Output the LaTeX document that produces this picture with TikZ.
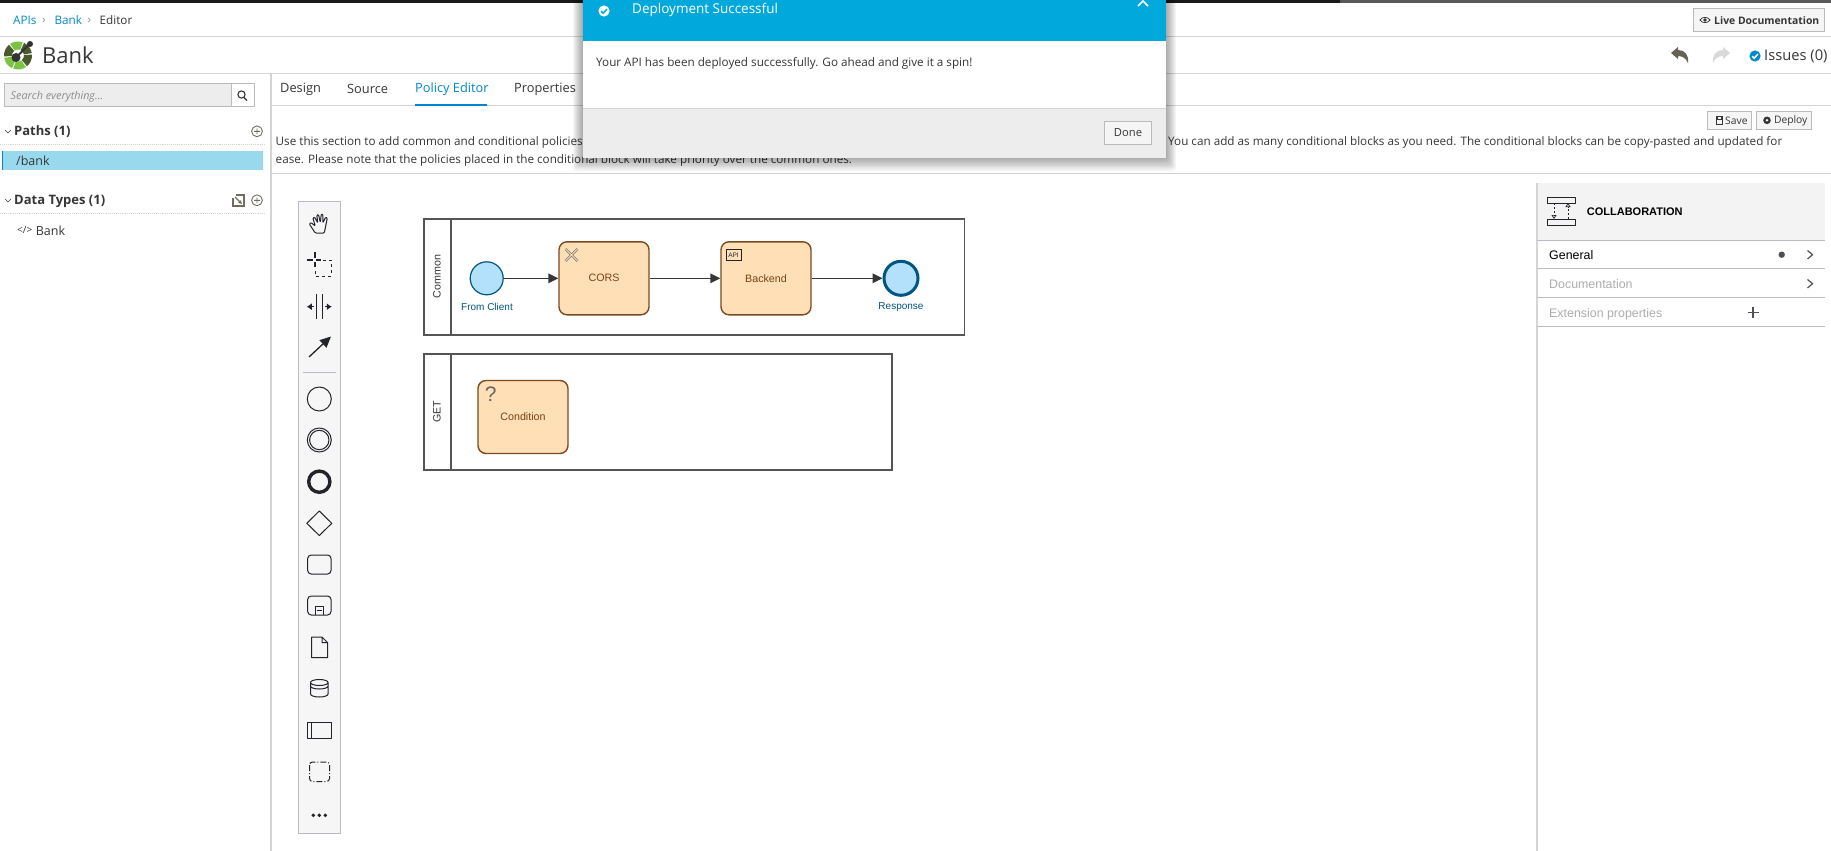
\documentclass[tikz,border=0pt]{standalone}
\usepackage{fontspec}
\usepackage{xcolor}
\usepackage{tikz}
\usetikzlibrary{calc,arrows.meta,shapes.geometric}
\setmainfont{Open Sans}
\newfontfamily\bpmnfont{Liberation Sans}
\definecolor{txt}{HTML}{363636}
\definecolor{muted}{HTML}{8A8D90}
\definecolor{rule}{HTML}{D4D4D4}
\definecolor{link}{HTML}{0088CE}
\definecolor{modal}{HTML}{00A8DB}
\definecolor{panel}{HTML}{EDEDED}
\definecolor{btn}{HTML}{F5F5F5}
\definecolor{btnedge}{HTML}{BBBBBB}
\definecolor{selbar}{HTML}{99D9EE}
\definecolor{olive}{HTML}{6F6E5E}
\definecolor{pooledge}{HTML}{555558}
\definecolor{taskfill}{HTML}{FFDFB6}
\definecolor{taskedge}{HTML}{7C4A20}
\definecolor{tasktxt}{HTML}{7A4318}
\definecolor{evfill}{HTML}{B3E0FB}
\definecolor{evedge}{HTML}{00567F}
\definecolor{toolfill}{HTML}{F6F6F7}
\definecolor{tooledge}{HTML}{B9BCC6}
\definecolor{toolink}{HTML}{22242A}
\definecolor{propfill}{HTML}{F3F3F4}
\definecolor{logodark}{HTML}{4B5A2C}
\definecolor{logolight}{HTML}{7DC243}
\tikzset{
  ui/.style={anchor=west, inner sep=0pt, yshift=-0.7pt, text=txt, font=\fontsize{#1}{#1}\selectfont},
  ui/.default=11.7,
  uibold/.style={anchor=west, inner sep=0pt, yshift=-0.7pt, text=txt, font=\fontsize{#1}{#1}\selectfont\bfseries},
  hline/.style={draw=rule, line width=1.2pt},
  dotline/.style={draw=rule, line width=0.9pt, densely dotted},
  button/.style={draw=btnedge, fill=btn, line width=0.9pt, inner sep=0pt, text=txt},
  addicon/.style={draw=olive, line width=0.9pt},
  pool/.style={draw=pooledge, line width=1.4pt, inner sep=0pt},
  poollabel/.style={rotate=90, inner sep=0pt, text=txt, font=\bpmnfont\fontsize{10.7}{10.7}\selectfont},
  task/.style={draw=taskedge, fill=taskfill, line width=1.4pt, rounded corners=8pt, inner sep=0pt,
    minimum width=90pt, minimum height=73pt, text=tasktxt, font=\bpmnfont\fontsize{10.7}{10.7}\selectfont},
  startev/.style={circle, draw=evedge, fill=evfill, line width=1.2pt, inner sep=0pt, minimum size=33pt},
  endev/.style={circle, draw=evedge, fill=evfill, line width=3pt, inner sep=0pt, minimum size=34pt},
  evlabel/.style={inner sep=0pt, text=evedge, font=\bpmnfont\fontsize{10}{10}\selectfont},
  flow/.style={draw=txt, line width=1.5pt, -{Triangle[length=10pt,width=9.5pt]}},
  tool/.style={draw=toolink, line width=1pt, line join=round},
  prop/.style={anchor=west, inner sep=0pt, font=\bpmnfont\fontsize{12.4}{12.4}\selectfont},
  propline/.style={draw=tooledge, line width=0.9pt},
  pics/okmark/.style 2 args={code={
    \fill[#1] (0,0) circle (5.6pt);
    \draw[#2, line width=1.5pt] (-2.8,0.2) -- (-0.8,2.2) -- (2.9,-1.9);
  }}
}

\begin{document}
\begin{tikzpicture}[x=1pt, y=-1pt]
  \useasboundingbox (0,0) rectangle (1831,851);
  \fill[white] (0,0) rectangle (1831,851);
  \fill[black!90] (0,0) rectangle (1340,2.7);
  \fill[black!65] (1340,0) rectangle (1831,2.7);

  % top bars
  \draw[hline] (0,36.7) -- (1831,36.7);
  \draw[hline] (0,73.3) -- (1831,73.3);
  \draw[hline] (271,105.3) -- (1831,105.3);
  \draw[hline] (271,173.3) -- (1831,173.3);
  \draw[hline] (271,73.3) -- (271,851);

  \node[ui, text=link] (apis) at (13,19.7) {APIs};
  \node[ui, text=muted] (sepa) at (42,19.7) {›};
  \node[ui, text=link] (bankcrumb) at (54.3,19.7) {Bank};
  \node[ui, text=muted] (sepb) at (87.5,19.7) {›};
  \node[ui] (editor) at (99.5,19.7) {Editor};

  % logo
  \foreach \a/\c in {10/logodark, 70/logolight, 130/logodark, 190/logolight, 250/logolight, 310/logodark}
    \fill[\c] (18,55.5) ++(\a:14pt) arc[start angle=\a, end angle=\a+54, radius=14pt]
      -- ++(\a+54:-8pt) arc[start angle=\a+54, end angle=\a, radius=6pt] -- cycle;
  \draw[black!80, line width=2pt] (16,57.5) -- (30,43.5);
  \fill[black!80] (16,57.5) circle (4.5pt);
  \fill[black!80] (30,44) circle (3pt);
  \node[ui=22] (apititle) at (42,55) {Bank};

  % undo, redo, issues
  \fill[olive!90!black] (1671,53) -- (1678,47) -- (1678,50) .. controls (1685,50) and (1689,55) .. (1688,63)
    .. controls (1686,58) and (1682,56) .. (1678,56) -- (1678,59) -- cycle;
  \fill[black!15] (1730,53) -- (1723,47) -- (1723,50) .. controls (1716,50) and (1712,55) .. (1713,63)
    .. controls (1715,58) and (1719,56) .. (1723,56) -- (1723,59) -- cycle;
  \pic at (1755,56) {okmark={link}{white}};
  \node[ui=14.7] (issues) at (1764,56) {Issues (0)};

  % live documentation button
  \node[button, minimum width=131pt, minimum height=23.4pt] (livebtn) at (1759,20) {};
  \draw[txt, line width=0.8pt] (1700,20) .. controls (1702,16.5) and (1708,16.5) .. (1710,20)
    .. controls (1708,23.5) and (1702,23.5) .. (1700,20) -- cycle;
  \fill[txt] (1705,20) circle (1.8pt);
  \node[uibold=10.4] (livetxt) at (1714,20) {Live Documentation};

  % left column
  \node[draw=btnedge, fill=panel, line width=0.9pt, minimum width=228pt, minimum height=23pt, inner sep=0pt] (searchbox) at (118,95.2) {};
  \node[ui=10.8, text=muted, font=\fontsize{10.8}{10.8}\selectfont\itshape] (searchtxt) at (10.5,96) {Search everything...};
  \node[button, fill=white, minimum width=22.5pt, minimum height=23pt] (searchbtn) at (243,95.2) {};
  \draw[txt, line width=1.1pt] (241.5,94.5) circle (3.6pt) (244,97.5) -- (247,100.5);

  \draw[txt, line width=0.7pt] (5,130) -- (8,133) -- (11,130);
  \node[uibold=13] (paths) at (14,131.3) {Paths (1)};
  \draw[addicon] (257,131.3) circle (5.4pt) (254,131.3) -- (260,131.3) (257,128.3) -- (257,134.3);
  \draw[dotline] (0,144.3) -- (265,144.3);
  \fill[selbar] (2,151) rectangle (263,170);
  \fill[link] (2,151) rectangle (3.2,170);
  \node[ui=12.5] (bankpath) at (16,160) {/bank};

  \draw[txt, line width=0.7pt] (5,199) -- (8,202) -- (11,199);
  \node[uibold=13] (datatypes) at (14,200.3) {Data Types (1)};
  \draw[olive, line width=1.3pt] (236,195) -- (244,195) -- (244,206) -- (233,206) -- (233,198);
  \draw[olive, line width=1.3pt, -{Latex[length=3.5pt,width=4.5pt]}] (235,197) -- (242,204);
  \draw[addicon] (257,200.3) circle (5.4pt) (254,200.3) -- (260,200.3) (257,197.3) -- (257,203.3);
  \draw[dotline] (0,213.3) -- (265,213.3);
  \node[ui=10] (tagicon) at (17,229.7) {</>};
  \node[ui=12.5] (banktype) at (35.6,229.7) {Bank};

  % tabs
  \node[ui=12.8] (design) at (280,88.7) {Design};
  \node[ui=12.8] (source) at (347,88.7) {Source};
  \node[ui=12.8, text=link] (policy) at (415,88.7) {Policy Editor};
  \node[ui=12.8] (props) at (514,88.7) {Properties};
  \fill[link] (414.5,103.8) rectangle (487,105.8);

  % help text
  \node[ui] (helpa) at (275.5,142) {Use this section to add common and conditional policies};
  \node[ui] (helpb) at (1168,142) {You can add as many conditional blocks as you need. The conditional blocks can be copy-pasted and updated for};
  \node[ui] (helpc) at (275.5,160) {ease. Please note that the policies placed in the conditional block will take priority over the common ones.};

  % save and deploy
  \node[button, minimum width=44pt, minimum height=18pt] (savebtn) at (1729.2,120.3) {};
  \draw[txt, line width=0.7pt] (1716,116.5) rectangle (1722.5,124);
  \draw[txt, line width=0.6pt] (1717.5,116.5) -- (1717.5,119) -- (1721,119) -- (1721,116.5);
  \node[ui=10.3] (savetxt) at (1725,120.5) {Save};
  \node[button, minimum width=55pt, minimum height=18pt] (deploybtn) at (1783.7,120.3) {};
  \fill[txt] (1767,120.3) circle (3.8pt);
  \fill[btn] (1767,120.3) circle (1.4pt);
  \node[ui=10.3] (deploytxt) at (1773.8,120.5) {Deploy};

  % modal dialog
  \foreach \d in {1,2,...,10}
    \fill[black, opacity=0.035, rounded corners=3pt] (583-\d,-2) rectangle (1166+\d,158+1.3*\d);
  \fill[white] (583,0) rectangle (1166,158);
  \fill[modal] (583,0) rectangle (1166,41);
  \fill[panel] (583,108.3) rectangle (1166,158);
  \draw[rule, line width=0.9pt] (583,108.3) -- (1166,108.3);
  \pic at (604,11) {okmark={white}{modal}};
  \node[ui=13.5, text=white] (modaltitle) at (632,9.3) {Deployment Successful};
  \draw[white, line width=1.6pt] (1138,6) -- (1143,1) -- (1148,6);
  \node[ui] (modaltxt) at (596,62.7) {Your API has been deployed successfully. Go ahead and give it a spin!};
  \node[button, minimum width=47pt, minimum height=23.4pt, font=\fontsize{11.2}{11.2}\selectfont] (donebtn) at (1128,133) {Done};

  % palette
  \draw[draw=tooledge, fill=toolfill, line width=0.9pt] (298.3,201.7) rectangle (340.7,833);
  \begin{scope}[shift={(319.3,223)}]
    \draw[tool, rounded corners=1pt] (-4,10) -- (-10,1) -- (-8.5,-0.5) -- (-4,3) -- (-6.5,-5) -- (-4.8,-6) -- (-1.5,0) -- (-2.5,-8)
      -- (-0.8,-8.5) -- (1,-0.5) -- (2,-9) -- (3.7,-8.5) -- (3.5,0) -- (6.5,-6) -- (8,-5) -- (6,5) -- (5,10) -- cycle;
  \end{scope}
  \begin{scope}[shift={(319.3,264)}]
    \draw[toolink, line width=2pt] (-12,-4) -- (-6.5,-4) (-3,-4) -- (2,-4) (-4.7,-12) -- (-4.7,-6.5) (-4.7,-2) -- (-4.7,3);
    \draw[tool, dash pattern=on 3pt off 3pt] (4,-4) -- (12,-4) -- (12,12) -- (-4,12) -- (-4,4);
  \end{scope}
  \begin{scope}[shift={(319.3,306.7)}]
    \draw[tool] (-3.3,-12.5) -- (-3.3,12.5) (3.3,-12.5) -- (3.3,12.5);
    \draw[tool, -{Latex[length=5pt,width=7pt]}] (-5.5,0) -- (-12.5,0);
    \draw[tool, -{Latex[length=5pt,width=7pt]}] (5.5,0) -- (12.5,0);
  \end{scope}
  \draw[tool, line width=1.3pt, -{Triangle[length=11pt,width=10pt]}] (309,357) -- (331,336.5);
  \draw[draw=tooledge, line width=0.9pt] (302.7,372.3) -- (336,372.3);
  \draw[tool] (319.3,399) circle (12pt);
  \draw[tool] (319.3,440) circle (12pt) (319.3,440) circle (9.7pt);
  \draw[tool, line width=3.4pt] (319.3,481.7) circle (10.6pt);
  \draw[tool] (319.3,511) -- (331.8,523.3) -- (319.3,535.5) -- (306.8,523.3) -- cycle;
  \draw[tool, rounded corners=3.5pt] (307.7,555) rectangle (331,574);
  \draw[tool, rounded corners=3.5pt] (307.7,596) rectangle (331,615);
  \draw[tool] (315.3,615) -- (315.3,606) -- (323.3,606) -- (323.3,615) (317,610.5) -- (321.6,610.5);
  \draw[tool] (311.5,637) -- (322,637) -- (327.5,642.5) -- (327.5,657.5) -- (311.5,657.5) -- cycle (322,637) -- (322,642.5) -- (327.5,642.5);
  \draw[tool] (310.5,682.5) arc[start angle=180, end angle=540, x radius=8.8pt, y radius=3pt]
    (310.5,686) arc[start angle=180, end angle=360, x radius=8.8pt, y radius=3pt]
    (310.5,682.5) -- (310.5,694) arc[start angle=180, end angle=360, x radius=8.8pt, y radius=3pt] -- (328.1,682.5);
  \draw[tool] (307.3,722) rectangle (331.5,738) (311.5,722) -- (311.5,738);
  \draw[tool, rounded corners=3pt, dash pattern=on 6pt off 2pt on 1pt off 2pt] (309.5,762) rectangle (329.5,781.5);
  \foreach \dx in {-6,0,6}
    \fill[toolink] (319.3+\dx,815.3) circle (1.9pt);

  % pools
  \node[pool, minimum width=540.5pt, minimum height=116pt] (common) at (694.1,277) {};
  \draw[pool] (451,219) -- (451,335);
  \node[poollabel] (commonlab) at (437,276.7) {Common};
  \node[pool, minimum width=468pt, minimum height=116pt] (get) at (658,412) {};
  \draw[pool] (451,354) -- (451,470);
  \node[poollabel] (getlab) at (437,411.7) {GET};

  % tasks and events
  \node[startev] (fromclient) at (486.7,278.3) {};
  \node[evlabel] (fromlab) at (487,306.7) {From Client};
  \node[task] (cors) at (604,278.3) {CORS};
  \node[task] (backend) at (766,278.3) {Backend};
  \node[endev] (response) at (901,278.3) {};
  \node[evlabel] (resplab) at (901,306.7) {Response};
  \node[task] (condition) at (523,417) {Condition};
  \draw[flow] (fromclient) -- (cors);
  \draw[flow] (cors) -- (backend);
  \draw[flow] (backend) -- (response);

  % task markers
  \draw[draw=muted!80!black, line width=2.2pt] (565.5,249) -- (577.5,261) (577.5,249) -- (565.5,261);
  \draw[draw=taskfill, line width=0.9pt] (565.5,249) -- (577.5,261) (577.5,249) -- (565.5,261);
  \node[draw=toolink, line width=0.8pt, minimum width=15pt, minimum height=11.5pt, inner sep=0pt, text=toolink,
    font=\bpmnfont\fontsize{6.5}{6.5}\selectfont] (apibox) at (733.5,255) {API};
  \node[inner sep=0pt, text=black!60, font=\bpmnfont\fontsize{21}{21}\selectfont] (question) at (490.7,394) {?};

  % properties panel
  \draw[draw=rule, line width=1.2pt] (1537,183) -- (1537,851);
  \fill[propfill] (1537.6,183) rectangle (1825,240);
  \draw[propline] (1537,240) -- (1825,240);
  \draw[propline] (1537,268) -- (1825,268);
  \draw[propline] (1537,297) -- (1825,297);
  \draw[propline] (1537,326) -- (1825,326);
  \draw[tool] (1547,197) rectangle (1575.7,203) (1547,219) rectangle (1575.7,225);
  \draw[tool, line width=0.7pt, dash pattern=on 2pt off 2pt, -{Triangle[open,length=4pt,width=5pt]}] (1554,203) -- (1554,219);
  \draw[tool, line width=0.7pt, dash pattern=on 2pt off 2pt, -{Triangle[open,length=4pt,width=5pt]}] (1568,219) -- (1568,203);
  \node[prop, font=\bpmnfont\fontsize{11}{11}\selectfont\bfseries] (collab) at (1586.7,211.5) {COLLABORATION};
  \node[prop] (general) at (1549,254.7) {General};
  \node[prop, text=black!32] (docu) at (1549,283.7) {Documentation};
  \node[prop, text=black!32] (extprops) at (1549,314) {Extension properties};
  \fill[toolink!80] (1781.7,254.7) circle (3.2pt);
  \draw[toolink!80, line width=1.2pt] (1807.5,250.5) -- (1812.5,254.7) -- (1807.5,259);
  \draw[toolink!80, line width=1.2pt] (1807.5,279.5) -- (1812.5,283.7) -- (1807.5,288);
  \draw[toolink!80, line width=1.1pt] (1747.5,312.7) -- (1758.5,312.7) (1753,307.2) -- (1753,318.2);
\end{tikzpicture}
\end{document}
